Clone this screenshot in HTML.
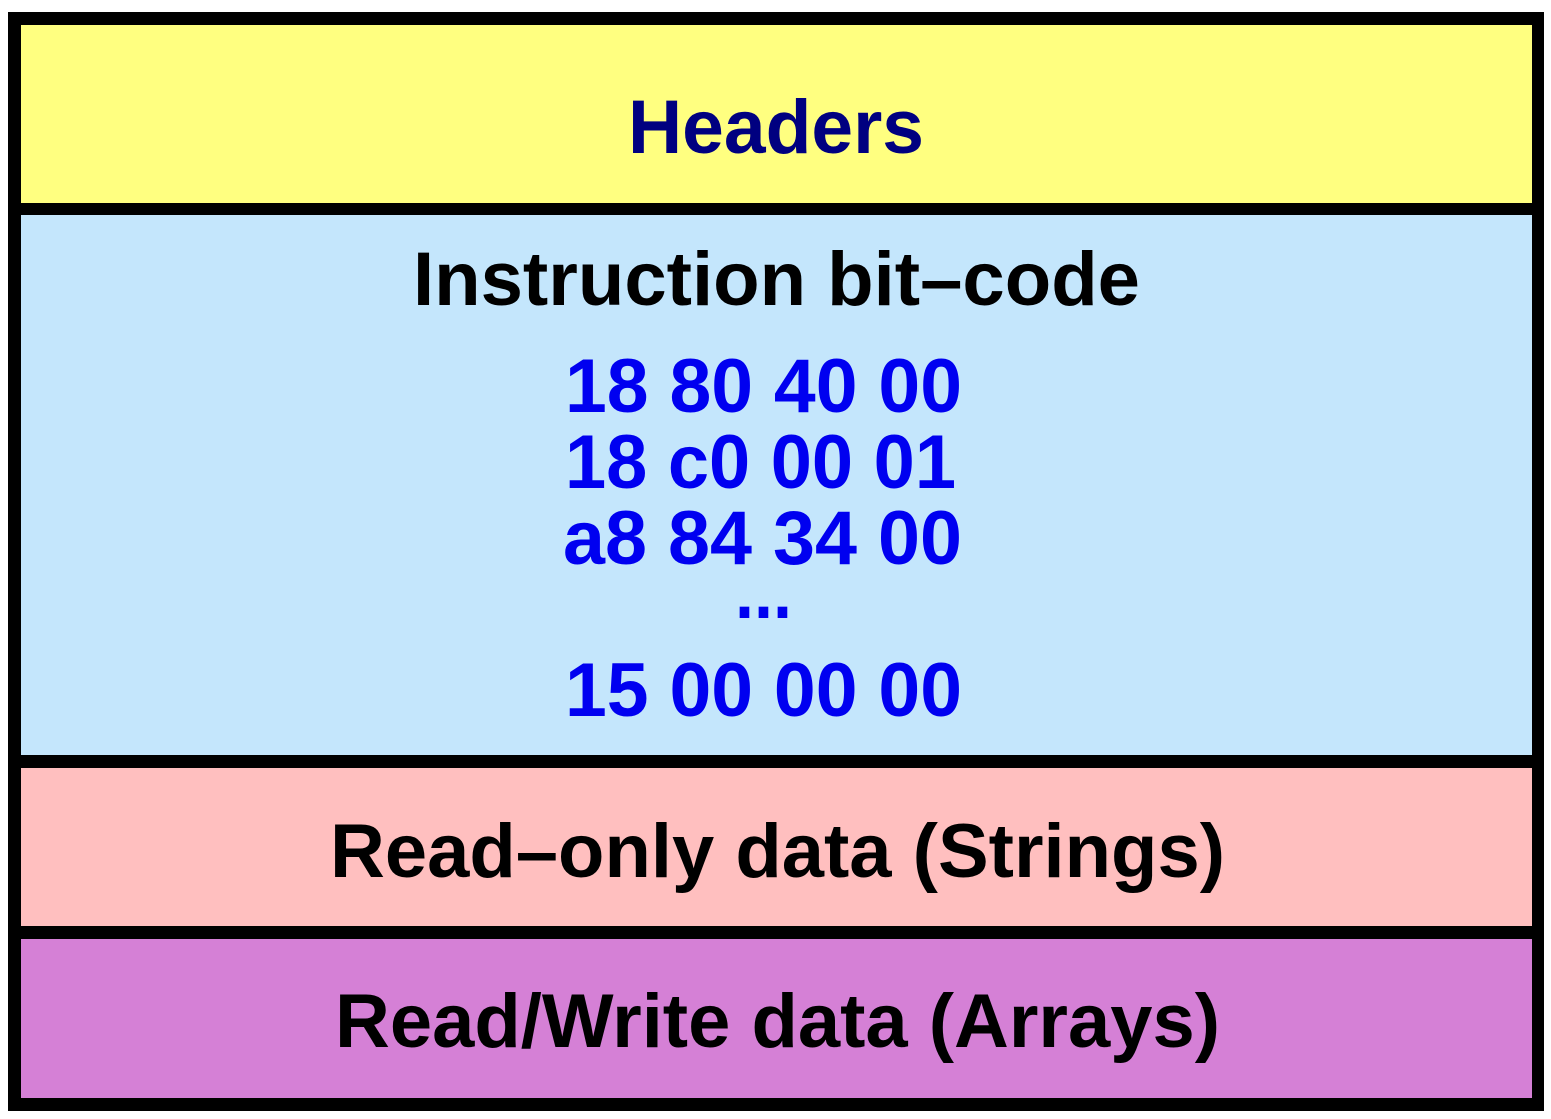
<!DOCTYPE html>
<html><head><meta charset="utf-8"><style>
html,body{margin:0;padding:0;background:#fff;}
svg{display:block;}
text{font-family:"Liberation Sans",Arial,sans-serif;font-weight:bold;}
</style></head><body>
<svg width="1551" height="1119" viewBox="0 0 1551 1119" xmlns="http://www.w3.org/2000/svg">
<rect x="8" y="12" width="1536" height="1099" fill="#000"/>
<rect x="21" y="25" width="1511" height="178" fill="#ffff80"/>
<rect x="21" y="215" width="1511" height="540" fill="#c4e6fc"/>
<rect x="21" y="768" width="1511" height="158" fill="#ffbfbf"/>
<rect x="21" y="939" width="1511" height="159" fill="#d580d6"/>
<text x="628" y="153" font-size="76" fill="#000080" textLength="296" lengthAdjust="spacingAndGlyphs">Headers</text>
<text x="413" y="305" font-size="76" fill="#000" textLength="727" lengthAdjust="spacingAndGlyphs">Instruction bit–code</text>
<g fill="#0000f0" font-size="76">
<text x="565" y="412" textLength="397" lengthAdjust="spacingAndGlyphs">18 80 40 00</text>
<text x="565" y="488" textLength="391" lengthAdjust="spacingAndGlyphs">18 c0 00 01</text>
<text x="563" y="564" textLength="399" lengthAdjust="spacingAndGlyphs">a8 84 34 00</text>
<text x="735" y="618" textLength="57" lengthAdjust="spacingAndGlyphs">...</text>
<text x="565" y="716" textLength="397" lengthAdjust="spacingAndGlyphs">15 00 00 00</text>
</g>
<text x="330" y="877" font-size="76" fill="#000" textLength="895" lengthAdjust="spacingAndGlyphs">Read–only data (Strings)</text>
<text x="335" y="1047" font-size="76" fill="#000" textLength="885" lengthAdjust="spacingAndGlyphs">Read/Write data (Arrays)</text>
</svg>
</body></html>
